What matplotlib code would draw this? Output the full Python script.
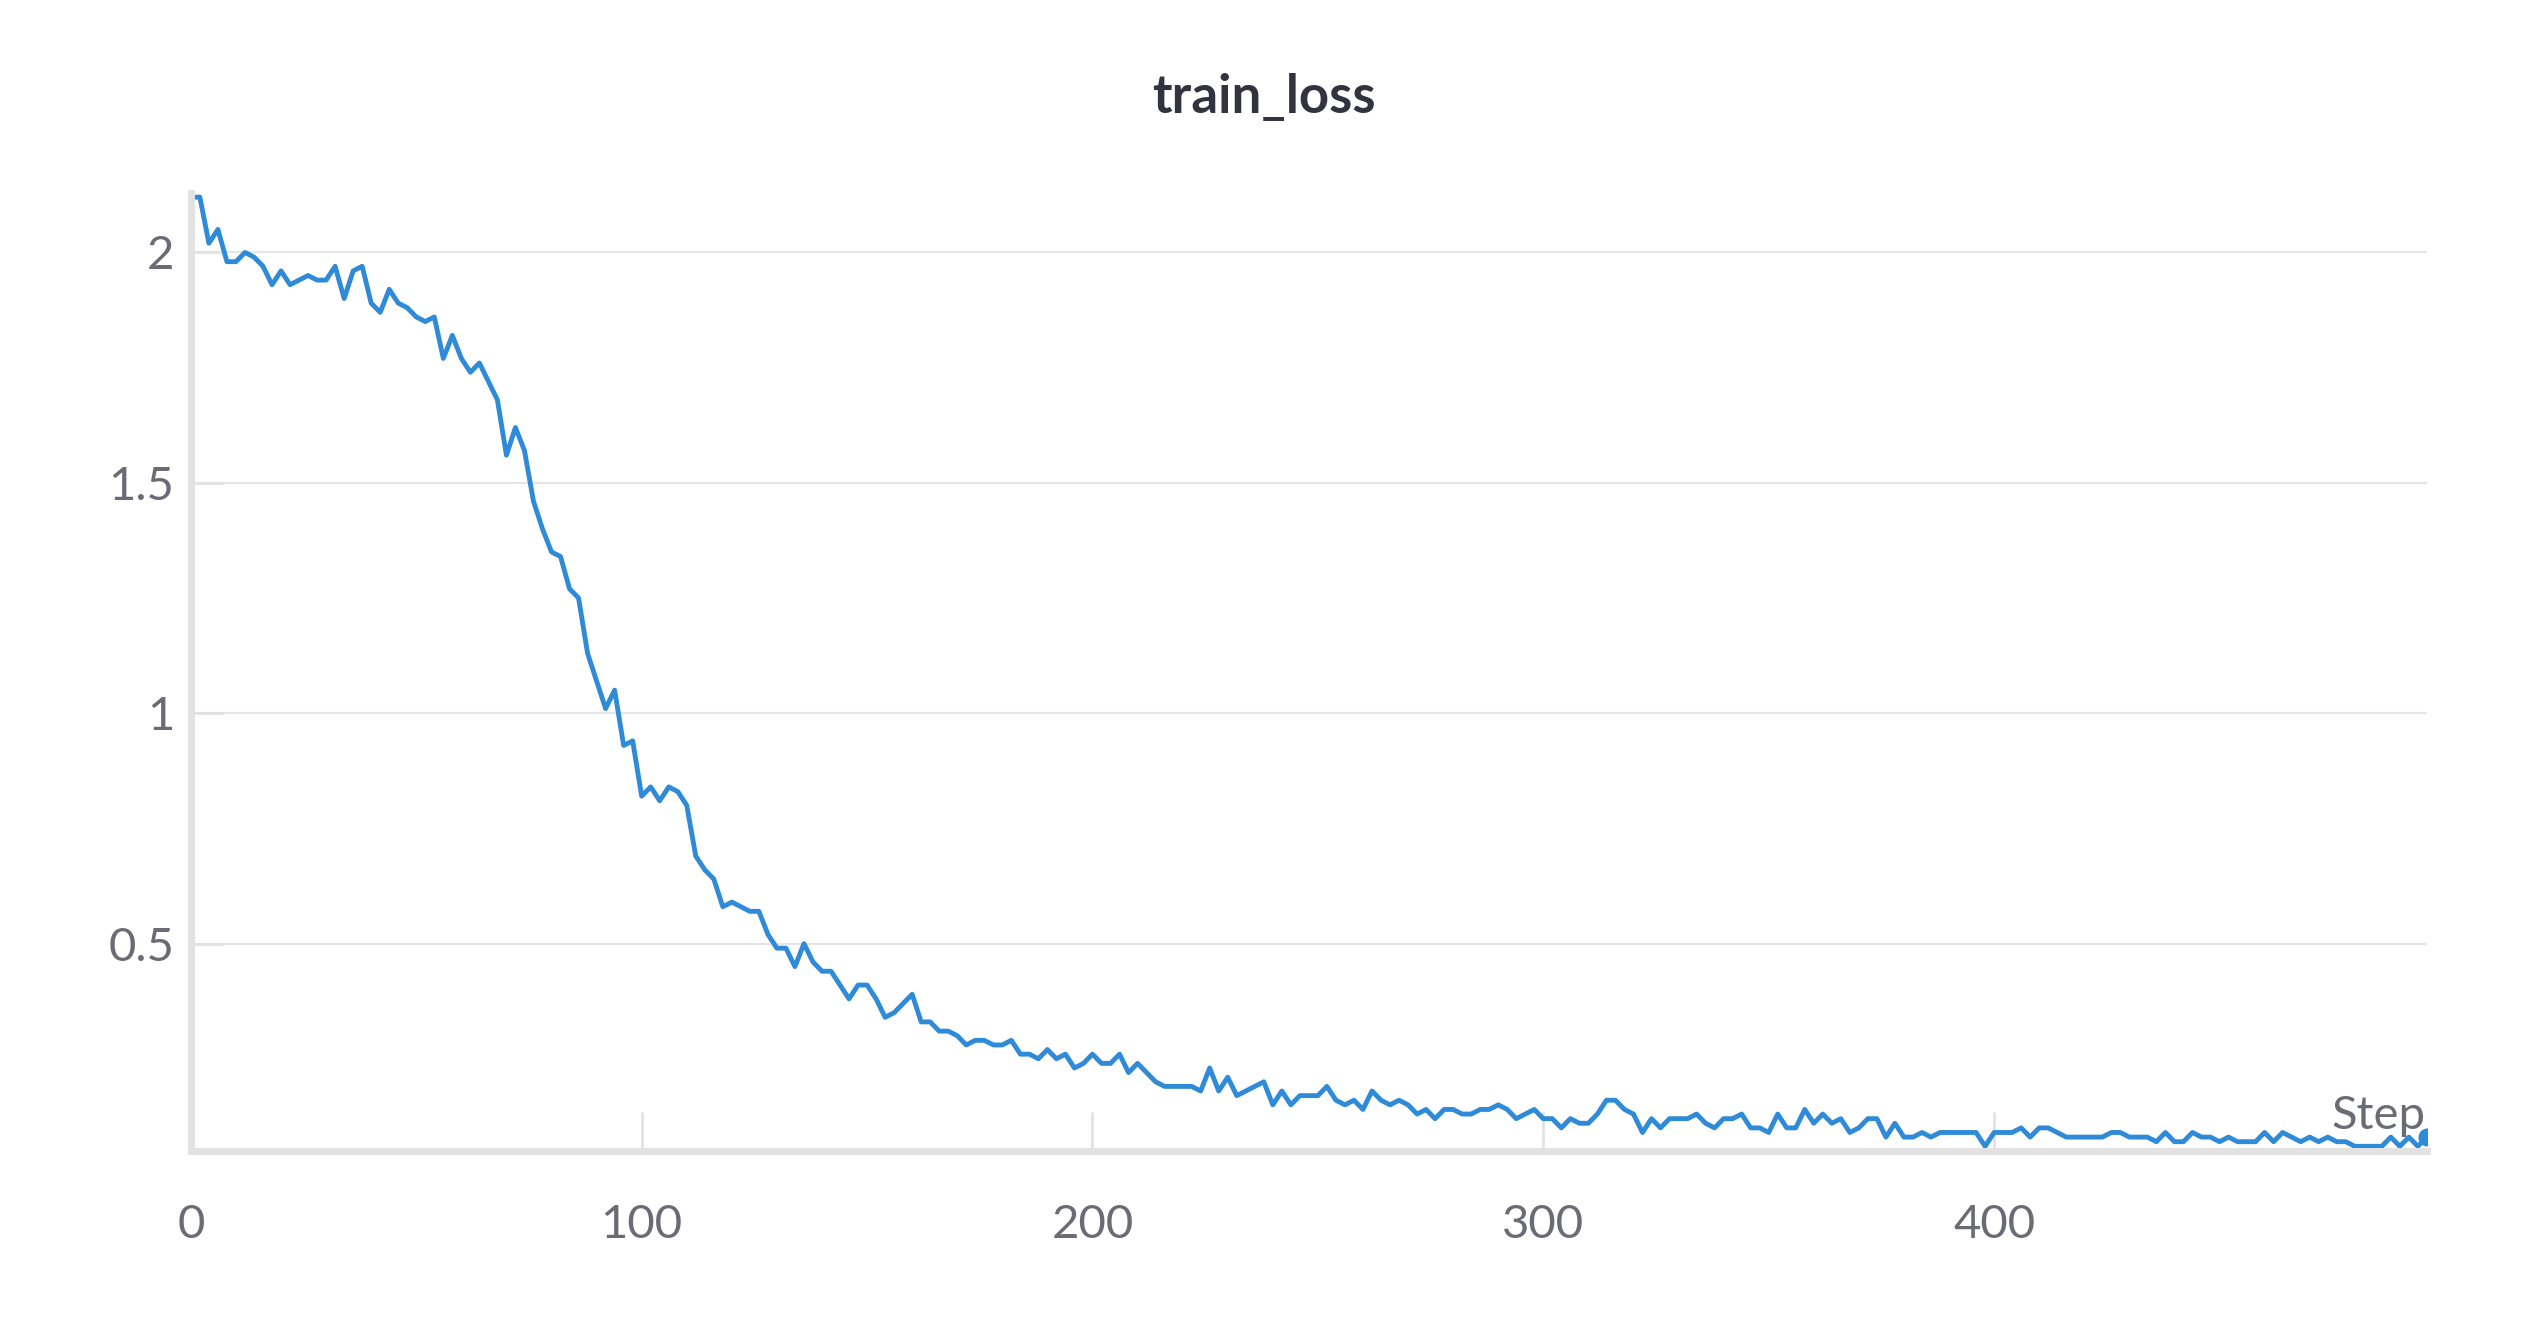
import matplotlib.pyplot as plt
import numpy as np

plt.rcParams['font.family'] = ['Lato', 'DejaVu Sans']

# train loss, read every 2 steps
steps = np.arange(0, 498, 2)
loss = [2.12, 2.12, 2.02, 2.05, 1.98, 1.98, 2.00, 1.99, 1.97, 1.93, 1.96, 1.93, 1.94, 1.95, 1.94, 1.94,
        1.97, 1.90, 1.96, 1.97, 1.89, 1.87, 1.92, 1.89, 1.88, 1.86, 1.85, 1.86, 1.77, 1.82, 1.77, 1.74,
        1.76, 1.72, 1.68, 1.56, 1.62, 1.57, 1.46, 1.40, 1.35, 1.34, 1.27, 1.25, 1.13, 1.07, 1.01, 1.05,
        0.93, 0.94, 0.82, 0.84, 0.81, 0.84, 0.83, 0.80, 0.69, 0.66, 0.64, 0.58, 0.59, 0.58, 0.57, 0.57,
        0.52, 0.49, 0.49, 0.45, 0.50, 0.46, 0.44, 0.44, 0.41, 0.38, 0.41, 0.41, 0.38, 0.34, 0.35, 0.37,
        0.39, 0.33, 0.33, 0.31, 0.31, 0.30, 0.28, 0.29, 0.29, 0.28, 0.28, 0.29, 0.26, 0.26, 0.25, 0.27,
        0.25, 0.26, 0.23, 0.24, 0.26, 0.24, 0.24, 0.26, 0.22, 0.24, 0.22, 0.20, 0.19, 0.19, 0.19, 0.19,
        0.18, 0.23, 0.18, 0.21, 0.17, 0.18, 0.19, 0.20, 0.15, 0.18, 0.15, 0.17, 0.17, 0.17, 0.19, 0.16,
        0.15, 0.16, 0.14, 0.18, 0.16, 0.15, 0.16, 0.15, 0.13, 0.14, 0.12, 0.14, 0.14, 0.13, 0.13, 0.14,
        0.14, 0.15, 0.14, 0.12, 0.13, 0.14, 0.12, 0.12, 0.10, 0.12, 0.11, 0.11, 0.13, 0.16, 0.16, 0.14,
        0.13, 0.09, 0.12, 0.10, 0.12, 0.12, 0.12, 0.13, 0.11, 0.10, 0.12, 0.12, 0.13, 0.10, 0.10, 0.09,
        0.13, 0.10, 0.10, 0.14, 0.11, 0.13, 0.11, 0.12, 0.09, 0.10, 0.12, 0.12, 0.08, 0.11, 0.08, 0.08,
        0.09, 0.08, 0.09, 0.09, 0.09, 0.09, 0.09, 0.06, 0.09, 0.09, 0.09, 0.10, 0.08, 0.10, 0.10, 0.09,
        0.08, 0.08, 0.08, 0.08, 0.08, 0.09, 0.09, 0.08, 0.08, 0.08, 0.07, 0.09, 0.07, 0.07, 0.09, 0.08,
        0.08, 0.07, 0.08, 0.07, 0.07, 0.07, 0.09, 0.07, 0.09, 0.08, 0.07, 0.08, 0.07, 0.08, 0.07, 0.07,
        0.06, 0.06, 0.06, 0.06, 0.08, 0.06, 0.08, 0.06, 0.08]
steps = steps[:len(loss)]

grey = "#6b6b76"
fig = plt.figure(figsize=(25.28, 13.28), dpi=100)
ax = fig.add_axes([0.0755, 0.133, 0.8845, 0.722])
ax.plot(steps, loss, color="#2f8ad8", lw=3.5)
ax.plot(steps[-1], loss[-1], "o", color="#2f8ad8", ms=12)
ax.set_xlim(0, steps[-1])
ax.set_ylim(0.049, 2.13)
ax.set_xticks([0, 100, 200, 300, 400])
ax.set_yticks([0.5, 1, 1.5, 2])
ax.set_yticklabels(["0.5", "1", "1.5", "2"])
ax.grid(axis="y", color="#e6e6e6", lw=1.5)
for s in ["top", "right"]:
    ax.spines[s].set_visible(False)
for s in ["left", "bottom"]:
    ax.spines[s].set_color("#e2e2e2")
    ax.spines[s].set_linewidth(5)
ax.tick_params(axis="x", direction="in", length=28, width=2, color="#e2e2e2",
               labelsize=34, labelcolor=grey, pad=38)
ax.tick_params(axis="y", direction="in", length=24, width=2, color="#e2e2e2",
               labelsize=34, labelcolor=grey, pad=12)
ax.text(0.9995, 0.015, "Step", transform=ax.transAxes, ha="right", va="bottom",
        fontsize=34, color=grey)
fig.suptitle("train_loss", y=0.945, fontsize=38, fontweight="bold", color="#333340")
plt.savefig("out.png", dpi=100)
